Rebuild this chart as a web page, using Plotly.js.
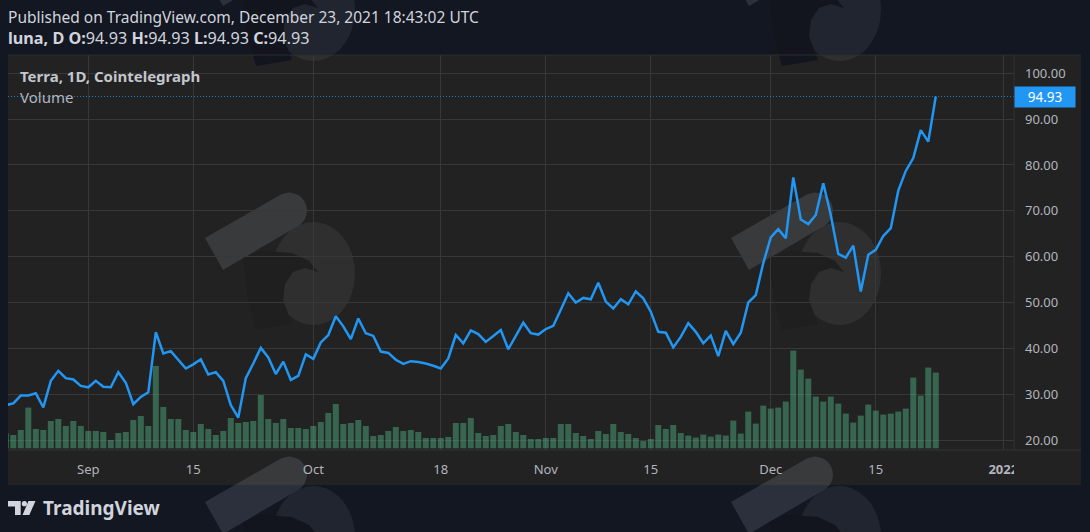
<!DOCTYPE html>
<html>
<head>
<meta charset="utf-8">
<script src="https://cdn.plot.ly/plotly-3.0.1.min.js"></script>
<style>
  html, body { margin: 0; padding: 0; background: #131722; }
  #chart { width: 1090px; height: 532px; }
</style>
</head>
<body>
<div id="chart"></div>
<script>
// ---------------- DATA ----------------
const startDate = '2021-08-21';   // first daily bar
const symbol = 'luna';
const interval = 'D';
const paneTitle = 'Terra, 1D, Cointelegraph';
const volumeTitle = 'Volume';
const publishedText = 'Published on TradingView.com, December 23, 2021 18:43:02 UTC';

// daily close prices, Aug 21 -> Dec 23 2021
const closes = [
  27.6, 28.0, 29.7, 29.7, 30.2, 27.1, 32.9, 35.1, 33.5, 33.2, 31.8,            // Aug 21-31
  31.5, 32.9, 31.6, 31.5, 34.8, 32.5, 27.8, 29.4, 30.4, 43.5,                  // Sep 1-10
  38.9, 39.4, 37.5, 35.6, 36.5, 37.6, 34.3, 34.8, 32.9, 27.6,                  // Sep 11-20
  24.9, 33.5, 36.7, 40.1, 38.0, 34.4, 37.1, 33.1, 34.0, 38.7,                  // Sep 21-30
  37.7, 41.3, 42.9, 47.0, 44.8, 42.0, 46.5, 43.3, 42.7, 39.3,                  // Oct 1-10
  39.0, 37.5, 36.6, 37.2, 37.0, 36.7, 36.2, 35.6, 37.8, 42.9,                  // Oct 11-20
  41.1, 43.9, 43.1, 41.4, 42.7, 44.0, 39.8, 42.7, 45.6, 43.3, 43.0,            // Oct 21-31
  44.2, 44.9, 48.4, 52.0, 50.0, 51.0, 50.7, 54.3, 50.2, 48.7,                  // Nov 1-10
  50.7, 49.6, 52.4, 50.9, 48.0, 43.6, 43.4, 40.2, 42.5, 45.5,                  // Nov 11-20
  43.6, 41.1, 42.8, 38.3, 43.8, 40.9, 43.4, 50.0, 51.6, 58.6,                  // Nov 21-30
  64.2, 66.0, 64.0, 77.3, 68.1, 67.1, 69.1, 76.0, 69.1, 60.6,                  // Dec 1-10
  59.8, 62.4, 52.4, 60.4, 61.5, 64.5, 66.2, 74.4, 78.7, 81.5,                  // Dec 11-20
  87.6, 85.1, 94.93                                                            // Dec 21-23
];

// daily volume (relative units)
const volumes = [
  15.0, 13.3, 18.3, 40.7, 19.3, 18.3, 27.3, 29.3, 22.3, 27.3, 22.3,
  17.3, 17.3, 16.3, 8.3, 15.3, 16.3, 28.3, 32.3, 22.3, 82.3,
  41.3, 29.3, 29.3, 18.3, 16.3, 24.3, 19.3, 13.3, 17.3, 30.3,
  25.3, 26.3, 27.3, 53.3, 29.3, 25.3, 29.3, 20.3, 20.3, 19.3,
  22.3, 26.3, 35.3, 44.3, 24.3, 25.3, 28.3, 22.3, 12.3, 13.3,
  17.3, 21.3, 17.3, 18.3, 16.3, 10.3, 10.3, 10.3, 11.3, 25.3,
  25.3, 30.3, 15.3, 12.3, 13.3, 22.3, 24.3, 16.3, 13.3, 9.3, 9.3,
  10.3, 10.3, 24.3, 24.3, 15.3, 12.3, 9.3, 17.3, 14.3, 24.3,
  16.3, 14.3, 10.3, 7.3, 9.3, 23.3, 19.3, 23.3, 15.3, 12.7,
  10.7, 13.7, 11.7, 13.7, 12.7, 27.7, 14.7, 36.7, 24.7, 42.7,
  39.7, 40.7, 46.7, 97.7, 78.7, 69.7, 51.7, 46.7, 51.7, 44.7,
  34.7, 25.7, 32.7, 43.7, 37.7, 33.7, 34.7, 36.7, 39.7, 70.7,
  52.7, 80.7, 75.7
];

const xTickVals = ['2021-09-01','2021-09-15','2021-10-01','2021-10-18','2021-11-01',
                   '2021-11-15','2021-12-01','2021-12-15','2022-01-01'];
const xTickText = ['Sep','15','Oct','18','Nov','15','Dec','15','<b>2022</b>'];
const yTickVals = [20, 30, 40, 50, 60, 70, 80, 90, 100];

// ---------------- BUILD ----------------
const dates = closes.map((_, i) => {
  const d = new Date(Date.parse(startDate + 'T00:00:00Z') + i * 86400000);
  return d.toISOString().slice(0, 10);
});
const last = closes[closes.length - 1];
const fmt = v => v.toFixed(2);

// pixel -> paper helpers (plot area 8..1014 x 55..450)
const PL = 8, PR = 1014, PT = 55, PB = 450;
const X = px => (px - PL) / (PR - PL);
const Y = py => (PB - py) / (PB - PT);

const FONT = 'Noto Sans, Open Sans, sans-serif';
const GRID = '#383838';
const PANE = '#222222';
const TXT = '#b2b5be';

const shapes = [];
// chart pane background
shapes.push({type:'rect', xref:'paper', yref:'paper', layer:'below',
  x0:X(8), x1:X(1081), y0:Y(485), y1:Y(55), fillcolor:PANE, line:{width:0}});

// watermark logos
function pathOf(pts){ return 'M' + pts.map(p => X(p[0]).toFixed(5) + ',' + Y(p[1]).toFixed(5)).join('L') + 'Z'; }
function logo(dx, dy, eagleColor){
  const A=[205,238], B=[280,195], C=[298,226], D=[223,270];
  const M=[(B[0]+C[0])/2,(B[1]+C[1])/2];
  const ux=(B[0]-A[0]), uy=(B[1]-A[1]); const ul=Math.hypot(ux,uy);
  const nx=(C[0]-B[0]), ny=(C[1]-B[1]); const nl=Math.hypot(nx,ny);
  const r=nl/2;
  const pts=[A,B];
  for(let t=-80;t<=80;t+=10){
    const a=t*Math.PI/180;
    pts.push([M[0]+r*(Math.cos(a)*ux/ul+Math.sin(a)*nx/nl), M[1]+r*(Math.cos(a)*uy/ul+Math.sin(a)*ny/nl)]);
  }
  pts.push(C, D);
  const sh = pts.map(p=>[p[0]+dx,p[1]+dy]);
  shapes.push({type:'circle', xref:'paper', yref:'paper', layer:'below',
    x0:X(272+dx), x1:X(355+dx), y0:Y(325+dy), y1:Y(222+dy),
    fillcolor:'rgba(200,205,220,0.08)', line:{width:0}});
  shapes.push({type:'path', xref:'paper', yref:'paper', layer:'below', path:pathOf(sh),
    fillcolor:'rgba(200,205,220,0.14)', line:{width:0}});
  const eagle=[[243,258],[262,251],[292,253],[309,261],[318,272],[305,268],[293,272],[285,284],[283,300],[292,324],[256,330],[248,300]];
  shapes.push({type:'path', xref:'paper', yref:'paper', layer:'below',
    path:pathOf(eagle.map(p=>[p[0]+dx,p[1]+dy])), fillcolor:eagleColor, line:{width:0}});
}
[0, 526].forEach(dx => {
  logo(dx, -264, '#12151d');
  logo(dx, 0, '#1f1f1f');
  logo(dx, 264, '#12151d');
});

// last price dotted line
shapes.push({type:'line', xref:'paper', yref:'y2', layer:'above',
  x0:0, x1:X(1020), y0:last, y1:last, line:{color:'rgba(33,150,243,0.75)', width:1, dash:'1px,2px'}});
// corner patch (clips the 2022 label like the price scale does)
shapes.push({type:'rect', xref:'paper', yref:'paper', layer:'above',
  x0:X(1014), x1:X(1081), y0:Y(485), y1:Y(450), fillcolor:PANE, line:{width:0}});
// separators
shapes.push({type:'line', xref:'paper', yref:'paper', layer:'above',
  x0:X(1014), x1:X(1014), y0:Y(450), y1:Y(55), line:{color:'#333333', width:1}});
shapes.push({type:'line', xref:'paper', yref:'paper', layer:'above',
  x0:X(8), x1:X(1081), y0:Y(450), y1:Y(450), line:{color:'#333333', width:1}});
shapes.push({type:'line', xref:'paper', yref:'paper', layer:'above',
  x0:X(8), x1:X(1081), y0:Y(55), y1:Y(55), line:{color:'#2c2c2c', width:1}});

// TradingView logo glyph
const LOGO = '#d1d4dc';
shapes.push({type:'path', xref:'paper', yref:'paper', layer:'above',
  path:pathOf([[8,501],[20.7,501],[20.7,515],[15,515],[15,506.5],[8,506.5]]), fillcolor:LOGO, line:{width:0}});
shapes.push({type:'circle', xref:'paper', yref:'paper', layer:'above',
  x0:X(21.8), x1:X(27), y0:Y(506.3), y1:Y(501.1), fillcolor:LOGO, line:{width:0}});
shapes.push({type:'path', xref:'paper', yref:'paper', layer:'above',
  path:pathOf([[28.5,501],[35.5,501],[29.3,515],[22.5,515]]), fillcolor:LOGO, line:{width:0}});

const annotations = [
  {xref:'paper', yref:'paper', x:X(6), y:Y(17), xanchor:'left', yanchor:'middle', showarrow:false,
   text:publishedText, font:{family:FONT, size:15.5, color:'#d1d4dc'}},
  {xref:'paper', yref:'paper', x:X(6), y:Y(38), xanchor:'left', yanchor:'middle', showarrow:false,
   text:`<b>${symbol}, ${interval}</b> <b>O:</b>${fmt(last)} <b>H:</b>${fmt(last)} <b>L:</b>${fmt(last)} <b>C:</b>${fmt(last)}`,
   font:{family:FONT, size:16.2, color:'#d1d4dc'}},
  {xref:'paper', yref:'paper', x:X(18), y:Y(76), xanchor:'left', yanchor:'middle', showarrow:false,
   text:`<b>${paneTitle}</b>`, font:{family:FONT, size:15, color:'#c3c6cd'}},
  {xref:'paper', yref:'paper', x:X(18), y:Y(97), xanchor:'left', yanchor:'middle', showarrow:false,
   text:volumeTitle, font:{family:FONT, size:15, color:'#b2b5be'}},
  {xref:'paper', yref:'y2', x:X(1014), y:last, xanchor:'left', yanchor:'middle', showarrow:false,
   text:fmt(last), width:60, height:20, borderpad:0, bgcolor:'#2196f3', align:'center',
   font:{family:FONT, size:13.5, color:'#ffffff'}},
  {xref:'paper', yref:'paper', x:X(41), y:Y(508), xanchor:'left', yanchor:'middle', showarrow:false,
   text:'<b>TradingView</b>', font:{family:FONT, size:19, color:LOGO}}
];

const traces = [
  {type:'bar', x:dates, y:volumes, yaxis:'y', xaxis:'x',
   marker:{color:'rgba(83,185,135,0.45)', line:{width:0}}, hoverinfo:'skip'},
  {type:'scatter', mode:'lines', x:dates, y:closes, yaxis:'y2', xaxis:'x',
   line:{color:'#2196f3', width:2.5}, hoverinfo:'skip'}
];

const layout = {
  width:1090, height:532,
  margin:{l:PL, r:1090-PR, t:PT, b:532-PB, pad:0},
  paper_bgcolor:'#131722', plot_bgcolor:'rgba(0,0,0,0)',
  showlegend:false, bargap:0.2,
  font:{family:FONT, color:TXT},
  xaxis:{type:'date', range:['2021-08-21 07:00','2022-01-02 10:20'],
    tickvals:xTickVals, ticktext:xTickText, showgrid:true, gridcolor:GRID, gridwidth:1,
    zeroline:false, showline:false, ticks:'', ticklabelstandoff:10,
    tickfont:{family:FONT, size:13, color:TXT}, fixedrange:true},
  yaxis:{range:[-1.7, 393.3], visible:false, showgrid:false, zeroline:false, fixedrange:true},
  yaxis2:{overlaying:'y', side:'right', anchor:'x', range:[17.82, 103.99],
    tickvals:yTickVals, tickformat:'.2f', showgrid:true, gridcolor:GRID, gridwidth:1,
    zeroline:false, showline:false, ticks:'', ticklabelstandoff:10,
    tickfont:{family:FONT, size:13, color:TXT}, fixedrange:true},
  shapes:shapes,
  annotations:annotations
};

Plotly.newPlot('chart', traces, layout, {displayModeBar:false, staticPlot:true});
</script>
</body>
</html>
